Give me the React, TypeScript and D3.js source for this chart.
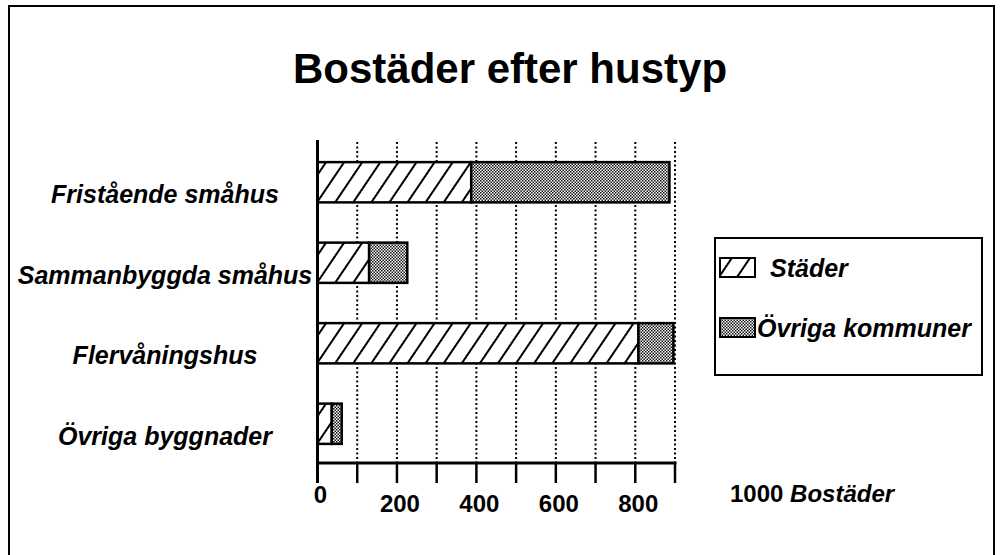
import React, { useRef, useEffect } from 'react';
import * as d3 from 'd3';

const categories = ["Fristående småhus", "Sammanbyggda småhus", "Flervåningshus", "Övriga byggnader"];
const staderValues = [387, 130, 808, 36];
const ovrigaValues = [499, 96, 88, 25];
const seriesNames = ["Städer", "Övriga kommuner"];
const axisTicks = [0, 100, 200, 300, 400, 500, 600, 700, 800, 900];
const tickLabels = [0, 200, 400, 600, 800];
const title = "Bostäder efter hustyp";
const unitNumber = "1000";
const unitText = "Bostäder";

const W = 1006;
const H = 555;
const FONT = '"Liberation Sans", Arial, Helvetica, sans-serif';

function drawChart(el: SVGSVGElement) {
    const svg = d3.select(el);
    svg.selectAll("*").remove();

    const x = d3.scaleLinear().domain([0, 900]).range([317.5, 675]);
    const y = d3.scaleBand<string>()
        .domain(categories)
        .range([142, 464])
        .paddingInner(0.5)
        .paddingOuter(0.25);

    const axisY = 463;
    const defs = svg.append("defs");

    // diagonal hatch for Städer
    const hatch = defs.append("pattern")
        .attr("id", "hatch")
        .attr("patternUnits", "userSpaceOnUse")
        .attr("width", 15)
        .attr("height", 15)
        .attr("patternTransform", "rotate(34)");
    hatch.append("rect").attr("width", 15).attr("height", 15).attr("fill", "#fff");
    hatch.append("line")
        .attr("x1", 1).attr("y1", 0).attr("x2", 1).attr("y2", 15)
        .attr("stroke", "#000").attr("stroke-width", 2);

    // fine stipple for Övriga kommuner
    const dots = defs.append("pattern")
        .attr("id", "dots")
        .attr("patternUnits", "userSpaceOnUse")
        .attr("width", 3)
        .attr("height", 3);
    dots.append("rect").attr("width", 3).attr("height", 3).attr("fill", "#fff");
    dots.append("rect").attr("width", 1.5).attr("height", 1.5).attr("fill", "#111");
    dots.append("rect").attr("x", 1.5).attr("y", 1.5).attr("width", 1.5).attr("height", 1.5).attr("fill", "#111");

    svg.append("rect")
        .attr("width", W).attr("height", H).attr("fill", "#fff");

    // outer frame
    svg.append("rect")
        .attr("x", 9).attr("y", 6)
        .attr("width", 985).attr("height", 570)
        .attr("fill", "none")
        .attr("stroke", "#000")
        .attr("stroke-width", 2);

    svg.append("text")
        .attr("x", 510)
        .attr("y", 83)
        .attr("text-anchor", "middle")
        .style("font-family", FONT)
        .style("font-weight", "bold")
        .style("font-size", "42px")
        .text(title);

    // dotted gridlines
    svg.append("g")
        .selectAll("line")
        .data(axisTicks.filter(d => d > 0))
        .enter().append("line")
        .attr("x1", d => x(d)).attr("x2", d => x(d))
        .attr("y1", 142).attr("y2", axisY)
        .attr("stroke", "#000")
        .attr("stroke-width", 2)
        .attr("stroke-dasharray", "2,2.5");

    // stacked bars
    const rows = categories.map((c, i) => ({
        cat: c,
        s: staderValues[i],
        o: ovrigaValues[i]
    }));

    const barG = svg.append("g");
    barG.selectAll(".bar-s")
        .data(rows)
        .enter().append("rect")
        .attr("class", "bar-s")
        .attr("x", x(0))
        .attr("y", d => y(d.cat)!)
        .attr("width", d => x(d.s) - x(0))
        .attr("height", y.bandwidth())
        .attr("fill", "url(#hatch)")
        .attr("stroke", "#000")
        .attr("stroke-width", 2.5);

    barG.selectAll(".bar-o")
        .data(rows)
        .enter().append("rect")
        .attr("class", "bar-o")
        .attr("x", d => x(d.s))
        .attr("y", d => y(d.cat)!)
        .attr("width", d => x(d.s + d.o) - x(d.s))
        .attr("height", y.bandwidth())
        .attr("fill", "url(#dots)")
        .attr("stroke", "#000")
        .attr("stroke-width", 2.5);

    // axes
    svg.append("line")
        .attr("x1", x(0)).attr("x2", x(0))
        .attr("y1", 140).attr("y2", 483)
        .attr("stroke", "#000").attr("stroke-width", 3);
    svg.append("line")
        .attr("x1", x(0) - 1.5).attr("x2", x(900) + 1.5)
        .attr("y1", axisY).attr("y2", axisY)
        .attr("stroke", "#000").attr("stroke-width", 3);
    svg.append("g")
        .selectAll("line")
        .data(axisTicks.filter(d => d > 0))
        .enter().append("line")
        .attr("x1", d => x(d)).attr("x2", d => x(d))
        .attr("y1", axisY).attr("y2", 483)
        .attr("stroke", "#000").attr("stroke-width", 2.5);

    // the 0 label sits a little higher than the rest
    svg.append("g")
        .selectAll("text")
        .data(tickLabels)
        .enter().append("text")
        .attr("x", d => x(d) + 3)
        .attr("y", d => d === 0 ? 503 : 512)
        .attr("text-anchor", "middle")
        .style("font-family", FONT)
        .style("font-weight", "bold")
        .style("font-size", "24px")
        .text(d => d);

    // category labels
    svg.append("g")
        .selectAll("text")
        .data(categories)
        .enter().append("text")
        .attr("x", 165)
        .attr("y", d => y(d)! + y.bandwidth() / 2 + 21)
        .attr("text-anchor", "middle")
        .style("font-family", FONT)
        .style("font-weight", "bold")
        .style("font-style", "italic")
        .style("font-size", "25px")
        .text(d => d);

    // legend
    const legend = svg.append("g");
    legend.append("rect")
        .attr("x", 715).attr("y", 238)
        .attr("width", 267).attr("height", 137)
        .attr("fill", "#fff")
        .attr("stroke", "#000")
        .attr("stroke-width", 2);

    const legendItems = [
        { name: seriesNames[0], fill: "url(#hatch)", y: 258, tx: 770 },
        { name: seriesNames[1], fill: "url(#dots)", y: 318, tx: 757 }
    ];
    const li = legend.selectAll(".legend-item")
        .data(legendItems)
        .enter().append("g")
        .attr("class", "legend-item");
    li.append("rect")
        .attr("x", 720)
        .attr("y", d => d.y)
        .attr("width", 35)
        .attr("height", 19)
        .attr("fill", d => d.fill)
        .attr("stroke", "#000")
        .attr("stroke-width", 2);
    li.append("text")
        .attr("x", d => d.tx)
        .attr("y", d => d.y + 19)
        .style("font-family", FONT)
        .style("font-weight", "bold")
        .style("font-style", "italic")
        .style("font-size", "25px")
        .text(d => d.name);

    // unit label
    const unit = svg.append("text")
        .attr("x", 730)
        .attr("y", 502)
        .style("font-family", FONT)
        .style("font-weight", "bold")
        .style("font-size", "24px");
    unit.append("tspan").text(unitNumber + " ");
    unit.append("tspan").style("font-style", "italic").text(unitText);
}

const App = () => {
    const svgRef = useRef<SVGSVGElement>(null);

    useEffect(() => {
        if (svgRef.current) {
            drawChart(svgRef.current);
        }
    }, []);

    return (
        <svg
            ref={svgRef}
            width={W}
            height={H}
            style={{ position: "absolute", left: 0, top: 0, display: "block" }}
        />
    );
};

export default App;
